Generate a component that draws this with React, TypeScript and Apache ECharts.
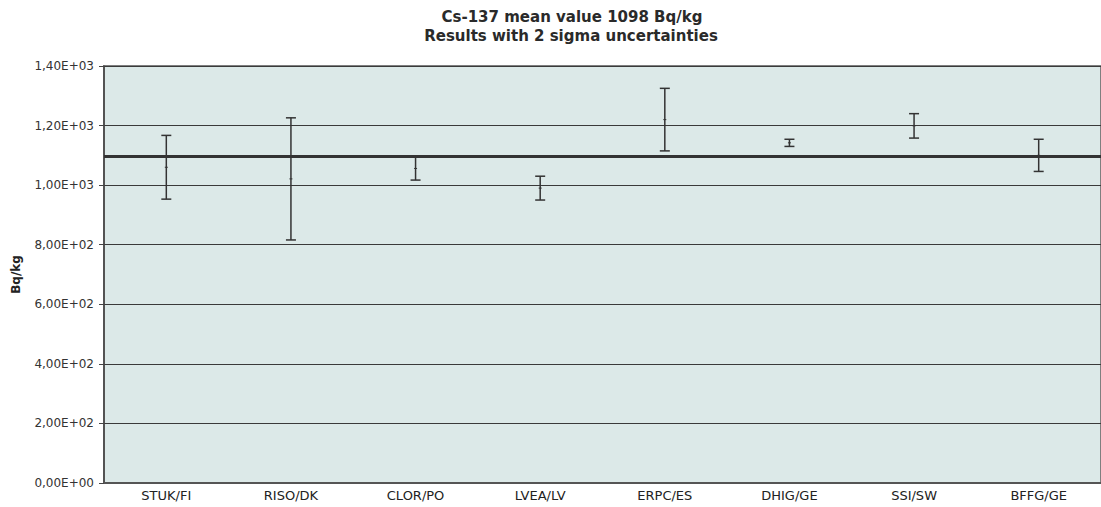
import React, { useEffect, useRef } from "react";
import * as echarts from "echarts";

const categories = ["STUK/FI", "RISO/DK", "CLOR/PO", "LVEA/LV", "ERPC/ES", "DHIG/GE", "SSI/SW", "BFFG/GE"];
const results = [1060, 1021, 1056, 990, 1220, 1142, 1199, 1100];
const uncertainties = [107, 205, 39, 40, 105, 12, 41, 54];
const meanValue = 1098;
const yTicks = [0, 200, 400, 600, 800, 1000, 1200, 1400];
const titleLines = ["Cs-137 mean value 1098 Bq/kg", "Results with 2 sigma uncertainties"];
const yName = "Bq/kg";

const FONT = "'DejaVu Sans', Verdana, sans-serif";

function fmtSci(v: number): string {
  if (v === 0) return "0,00E+00";
  const exp = Math.floor(Math.log10(v) + 1e-9);
  const mant = v / Math.pow(10, exp);
  return `${mant.toFixed(2).replace(".", ",")}E+${String(exp).padStart(2, "0")}`;
}

export default function App() {
  const ref = useRef<HTMLDivElement>(null);
  useEffect(() => {
    if (!ref.current) return;
    const chart = echarts.init(ref.current, undefined, { renderer: "svg" });
    const data = categories.map((_, i) => [
      i,
      results[i] - uncertainties[i],
      results[i] + uncertainties[i],
      results[i],
    ]);
    chart.setOption({
      animation: false,
      backgroundColor: "#ffffff",
      graphic: [
        {
          type: "text",
          x: 572,
          y: 17,
          style: {
            text: titleLines[0],
            font: `bold 15px ${FONT}`,
            fill: "#2a2a2a",
            textAlign: "center",
            textVerticalAlign: "middle",
          },
        },
        {
          type: "text",
          x: 571,
          y: 36,
          style: {
            text: titleLines[1],
            font: `bold 15px ${FONT}`,
            fill: "#2a2a2a",
            textAlign: "center",
            textVerticalAlign: "middle",
          },
        },
      ],
      grid: {
        left: 104,
        top: 66,
        width: 1008,
        height: 417,
        show: true,
        backgroundColor: "#dce9e8",
        borderColor: "#7f7f7f",
        borderWidth: 2,
      },
      xAxis: {
        type: "category",
        data: categories,
        boundaryGap: true,
        axisLine: { show: true, lineStyle: { color: "#555", width: 2 } },
        axisTick: { show: false },
        axisLabel: { color: "#222", fontFamily: FONT, fontSize: 13, margin: 6 },
        splitLine: { show: false },
      },
      yAxis: {
        type: "value",
        min: yTicks[0],
        max: yTicks[yTicks.length - 1],
        interval: yTicks[1] - yTicks[0],
        name: yName,
        nameLocation: "middle",
        nameRotate: 90,
        nameGap: 82,
        nameTextStyle: { color: "#222", fontFamily: FONT, fontSize: 12, fontWeight: "bold" },
        axisLine: { show: true, lineStyle: { color: "#444", width: 1.5 } },
        axisTick: { show: true, inside: false, length: 5, lineStyle: { color: "#444", width: 1 } },
        axisLabel: {
          color: "#333",
          fontFamily: FONT,
          fontSize: 12,
          margin: 10,
          formatter: (v: number) => fmtSci(v),
        },
        splitLine: { show: true, lineStyle: { color: "#3a3a3a", width: 1.2 } },
      },
      series: [
        {
          type: "custom",
          name: "results",
          data,
          encode: { x: 0, y: [1, 2, 3] },
          renderItem: (params: any, api: any) => {
            const idx = api.value(0);
            const lo = api.coord([idx, api.value(1)]);
            const hi = api.coord([idx, api.value(2)]);
            const mid = api.coord([idx, api.value(3)]);
            const cap = 5;
            const style = { stroke: "#333", lineWidth: 1.5 };
            return {
              type: "group",
              children: [
                { type: "line", shape: { x1: hi[0], y1: hi[1], x2: lo[0], y2: lo[1] }, style },
                { type: "line", shape: { x1: hi[0] - cap, y1: hi[1], x2: hi[0] + cap, y2: hi[1] }, style },
                { type: "line", shape: { x1: lo[0] - cap, y1: lo[1], x2: lo[0] + cap, y2: lo[1] }, style },
                { type: "line", shape: { x1: mid[0] - 1.5, y1: mid[1], x2: mid[0] + 1.5, y2: mid[1] }, style: { stroke: "#333", lineWidth: 1 } },
              ],
            };
          },
          markLine: {
            silent: true,
            symbol: ["none", "none"],
            label: { show: false },
            lineStyle: { color: "#333", width: 3, type: "solid" },
            data: [{ yAxis: meanValue }],
          },
          z: 3,
        },
      ],
    });
    return () => chart.dispose();
  }, []);
  return (
    <div
      ref={ref}
      style={{ position: "absolute", left: 0, top: 0, width: 1101, height: 507 }}
    />
  );
}
